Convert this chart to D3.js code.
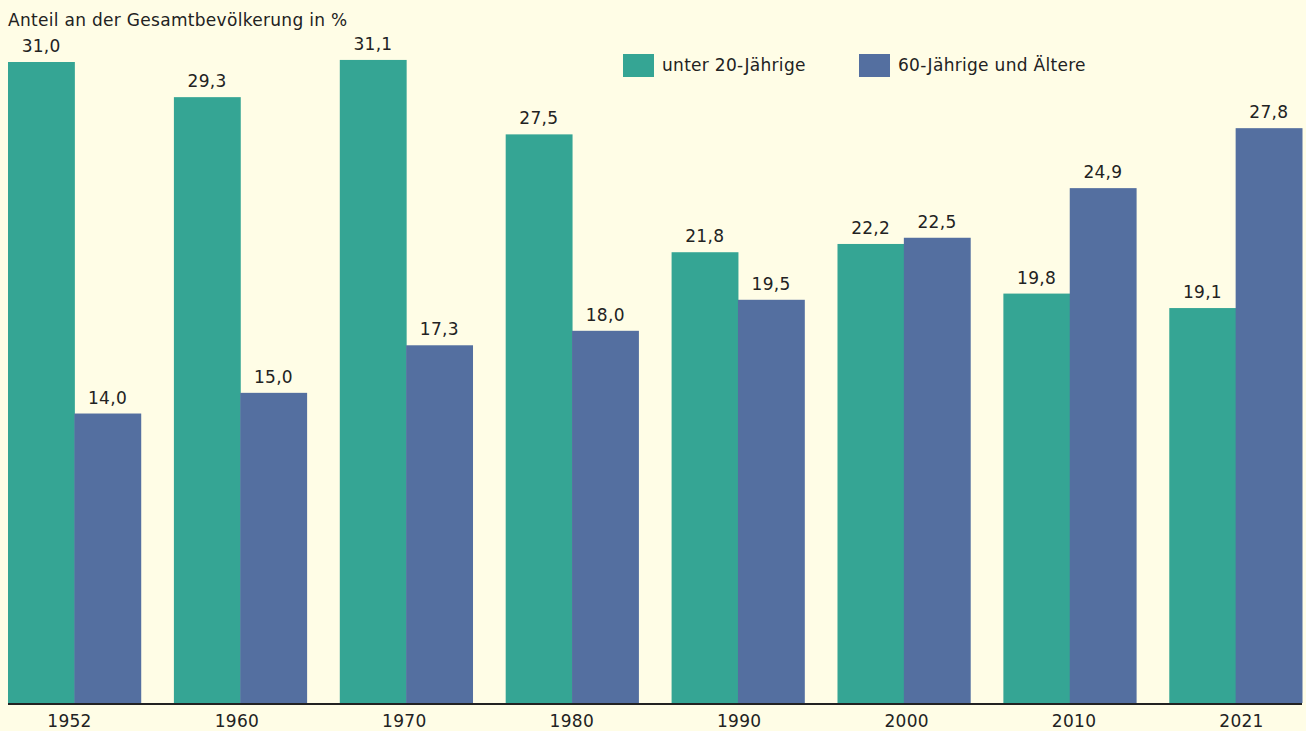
<!DOCTYPE html>
<html>
<head>
<meta charset="utf-8">
<script src="https://cdn.jsdelivr.net/npm/d3@7"></script>
<style>
  html, body { margin: 0; padding: 0; background: #fffde6; }
  svg { display: block; font-family: "DejaVu Sans", Arial, sans-serif; letter-spacing: 0.3px; }
</style>
</head>
<body>
<script>
// values (percent of total population)
var years = ["1952", "1960", "1970", "1980", "1990", "2000", "2010", "2021"];
var under20 = [31.0, 29.3, 31.1, 27.5, 21.8, 22.2, 19.8, 19.1];
var over60 = [14.0, 15.0, 17.3, 18.0, 19.5, 22.5, 24.9, 27.8];
var seriesNames = ["unter 20-Jährige", "60-Jährige und Ältere"];

var W = 1306, H = 731;
var fontSize = "17px";

var color = d3.scaleOrdinal()
    .domain(seriesNames)
    .range(["#35a594", "#546fa0"]);

var x = d3.scaleBand()
    .domain(years)
    .range([8, 1302])
    .paddingInner(0.2)
    .paddingOuter(0);

var x1 = d3.scaleBand()
    .domain(seriesNames)
    .range([0, x.bandwidth()]);

var y = d3.scaleLinear()
    .domain([0, 31])
    .range([703, 62]);

// label positions under the groups
var xLab = d3.scalePoint()
    .domain(years)
    .range([69, 1241]);

var svg = d3.select("body").append("svg")
    .attr("width", W)
    .attr("height", H);

svg.append("rect")
    .attr("width", W)
    .attr("height", H)
    .attr("fill", "#fffde6");

svg.append("text")
    .attr("x", 8)
    .attr("y", 26)
    .attr("fill", "#222")
    .style("font-size", fontSize)
    .text("Anteil an der Gesamtbevölkerung in %");

var data = years.map(function(yr, i) {
  return {year: yr, values: [
    {name: seriesNames[0], v: under20[i]},
    {name: seriesNames[1], v: over60[i]}
  ]};
});

var groups = svg.selectAll(".group")
    .data(data)
  .enter().append("g")
    .attr("class", "group")
    .attr("transform", function(d) { return "translate(" + x(d.year) + ",0)"; });

groups.selectAll("rect")
    .data(function(d) { return d.values; })
  .enter().append("rect")
    .attr("x", function(d) { return x1(d.name); })
    .attr("y", function(d) { return y(d.v); })
    .attr("width", x1.bandwidth() + 0.5)
    .attr("height", function(d) { return y(0) - y(d.v); })
    .attr("fill", function(d) { return color(d.name); });

groups.selectAll("text")
    .data(function(d) { return d.values; })
  .enter().append("text")
    .attr("x", function(d) { return x1(d.name) + x1.bandwidth() / 2; })
    .attr("y", function(d) { return y(d.v) - 10; })
    .attr("text-anchor", "middle")
    .attr("fill", "#222")
    .style("font-size", fontSize)
    .text(function(d) { return d3.format(".1f")(d.v).replace(".", ","); });

// baseline
svg.append("line")
    .attr("x1", 8)
    .attr("x2", 1302)
    .attr("y1", 704)
    .attr("y2", 704)
    .attr("stroke", "#222")
    .attr("stroke-width", 2);

var xAxis = d3.axisBottom(xLab).tickSize(0).tickPadding(0);
var gx = svg.append("g")
    .attr("transform", "translate(0,712)")
    .call(xAxis);
gx.select(".domain").remove();
gx.selectAll("text")
    .attr("dy", "0.9em")
    .attr("fill", "#222")
    .style("font-size", fontSize)
    .style("font-family", "'DejaVu Sans', Arial, sans-serif");

// legend
var legend = svg.selectAll(".legend")
    .data(seriesNames)
  .enter().append("g")
    .attr("class", "legend")
    .attr("transform", function(d, i) { return "translate(" + [623, 859][i] + ",54)"; });

legend.append("rect")
    .attr("width", 31)
    .attr("height", 23)
    .attr("fill", color);

legend.append("text")
    .attr("x", 39)
    .attr("y", 17)
    .attr("fill", "#222")
    .style("font-size", fontSize)
    .text(function(d) { return d; });
</script>
</body>
</html>
